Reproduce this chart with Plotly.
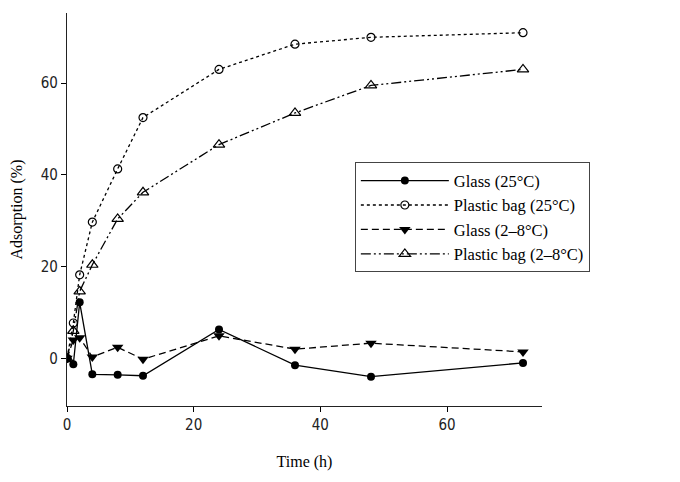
import plotly.graph_objects as go

time_h = [0, 1, 2, 4, 8, 12, 24, 36, 48, 72]
glass_25 = [0, -1.3, 12.2, -3.5, -3.6, -3.8, 6.3, -1.5, -4.0, -1.0]
plastic_25 = [0, 7.7, 18.2, 29.7, 41.3, 52.5, 63.0, 68.5, 70.0, 71.0]
glass_2_8 = [0, 4.0, 4.5, 0.3, 2.4, -0.2, 4.9, 2.0, 3.3, 1.4]
plastic_2_8 = [0, 6.0, 14.6, 20.4, 30.4, 36.2, 46.6, 53.5, 59.5, 63.0]

x_ticks = [0, 20, 40, 60]
y_ticks = [0, 20, 40, 60]

fig = go.Figure()

fig.add_trace(go.Scatter(
    x=time_h, y=glass_25, name="Glass (25°C)", mode="lines+markers",
    line=dict(color="black", width=1.3, dash="solid"),
    marker=dict(symbol="circle", size=8, color="black"),
))
fig.add_trace(go.Scatter(
    x=time_h, y=plastic_25, name="Plastic bag (25°C)", mode="lines+markers",
    line=dict(color="black", width=1.3, dash="dot"),
    marker=dict(symbol="circle-open", size=8, color="black", line=dict(width=1.2)),
))
fig.add_trace(go.Scatter(
    x=time_h, y=glass_2_8, name="Glass (2–8°C)", mode="lines+markers",
    line=dict(color="black", width=1.3, dash="7px,4px"),
    marker=dict(symbol="triangle-down", size=10, color="black"),
))
fig.add_trace(go.Scatter(
    x=time_h, y=plastic_2_8, name="Plastic bag (2–8°C)", mode="lines+markers",
    line=dict(color="black", width=1.3, dash="10px,3px,2px,3px,2px,3px"),
    marker=dict(symbol="triangle-up-open", size=10, color="black", line=dict(width=1.2)),
))

tick_font = dict(family="Liberation Sans Narrow, DejaVu Sans Condensed, Liberation Sans, Arial",
                 size=15, color="#222")
title_font = dict(family="Liberation Serif, Times New Roman, serif", size=16, color="black")

fig.update_layout(
    width=680, height=482,
    margin=dict(l=59, r=146, t=5, b=84, autoexpand=False),
    paper_bgcolor="white", plot_bgcolor="white",
    showlegend=True,
    legend=dict(
        x=0.606, y=0.62, xanchor="left", yanchor="top",
        bordercolor="#444", borderwidth=1, bgcolor="white",
        font=dict(family="Liberation Serif, Times New Roman, serif", size=16.5, color="black"),
        itemwidth=88, tracegroupgap=0,
    ),
    xaxis=dict(
        range=[0, 75], tickvals=x_ticks, ticks="outside", ticklen=5, tickwidth=1,
        tickcolor="black", showline=True, linecolor="#222", linewidth=1.3,
        showgrid=False, zeroline=False, tickfont=tick_font,
        title=dict(text="Time (h)", font=title_font, standoff=22),
    ),
    yaxis=dict(
        range=[-10.4, 75.3], tickvals=y_ticks, ticks="outside", ticklen=5, tickwidth=1,
        tickcolor="black", showline=True, linecolor="#222", linewidth=1.3,
        showgrid=False, zeroline=False, tickfont=tick_font,
        title=dict(text="Adsorption (%)", font=title_font, standoff=16),
    ),
)

fig.write_html("out.html")
